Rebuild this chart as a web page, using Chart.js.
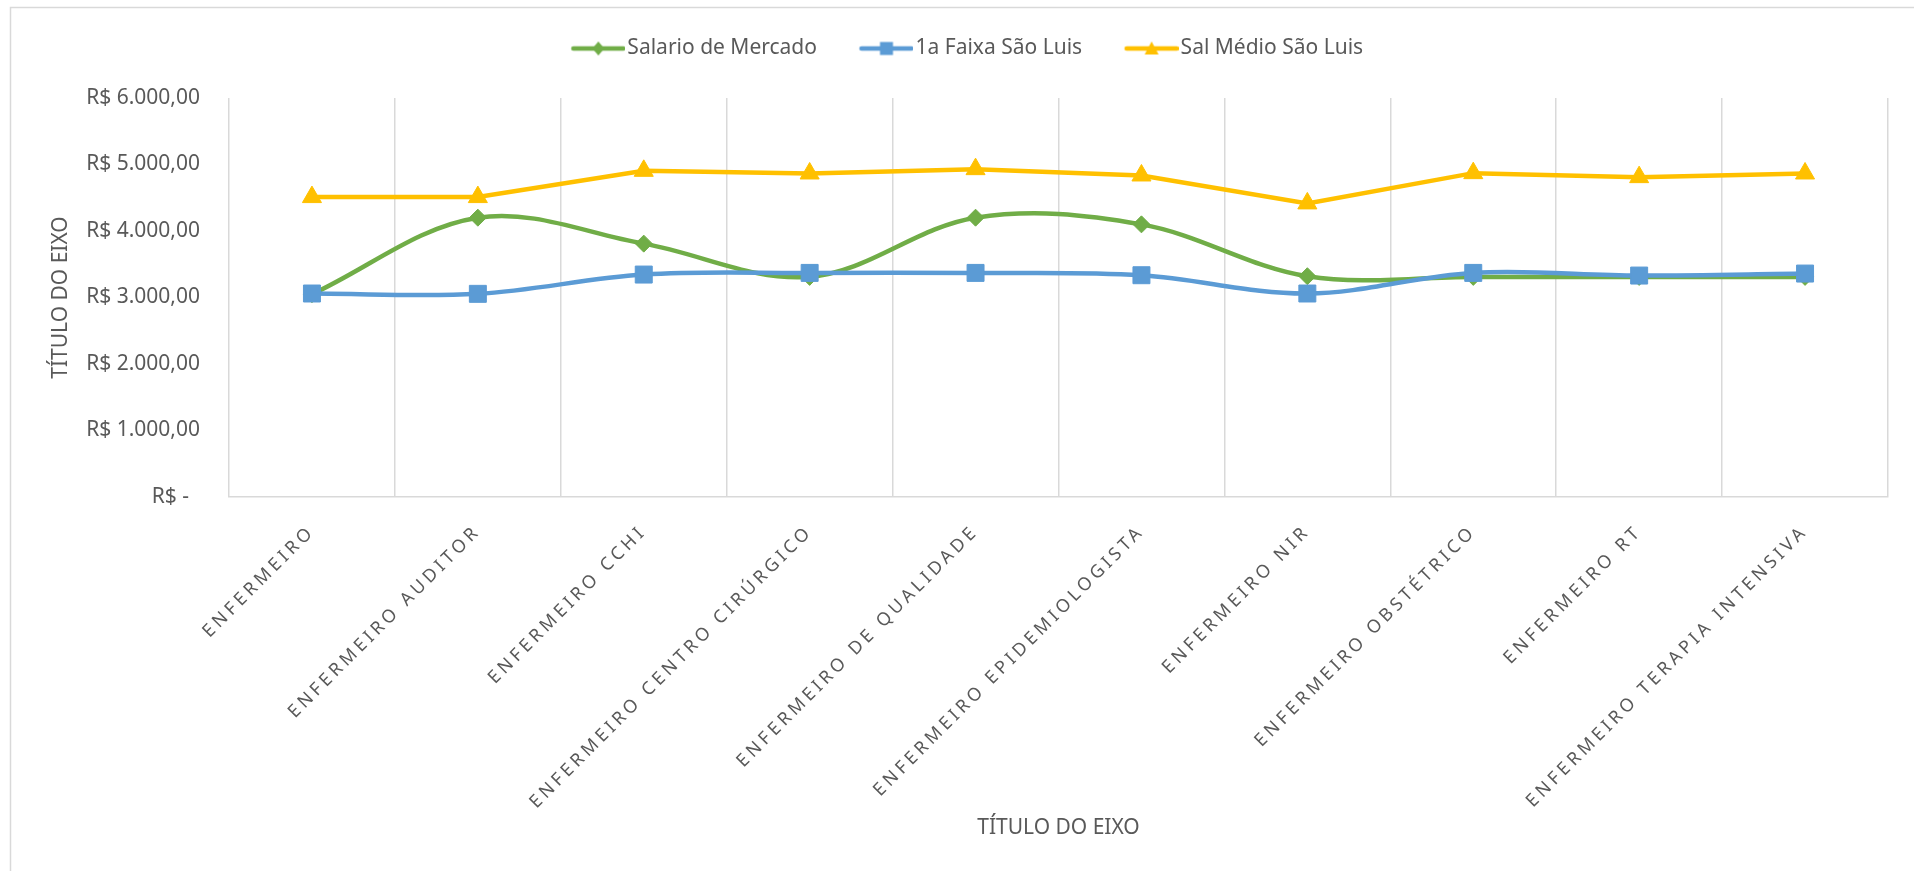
<!DOCTYPE html>
<html>
<head>
<meta charset="utf-8">
<title>Salários Enfermagem</title>
<script src="https://cdn.jsdelivr.net/npm/chart.js@4.4.1/dist/chart.umd.min.js"></script>
<style>
  html, body { margin: 0; padding: 0; background: #fff; }
  #wrap { width: 1914px; height: 871px; }
</style>
</head>
<body>
<div id="wrap"><canvas id="salarios" width="1914" height="871"></canvas></div>
<script>
// Cargos e valores (R$)
const cargos = [
    'ENFERMEIRO',
    'ENFERMEIRO AUDITOR',
    'ENFERMEIRO CCHI',
    'ENFERMEIRO CENTRO CIRÚRGICO',
    'ENFERMEIRO DE QUALIDADE',
    'ENFERMEIRO EPIDEMIOLOGISTA',
    'ENFERMEIRO NIR',
    'ENFERMEIRO OBSTÉTRICO',
    'ENFERMEIRO RT',
    'ENFERMEIRO TERAPIA INTENSIVA'
];
const salarioMercado = [3050, 4200, 3810, 3310, 4200, 4100, 3320, 3310, 3310, 3310];
const primeiraFaixa = [3060, 3055, 3345, 3370, 3370, 3335, 3060, 3370, 3330, 3360];
const salarioMedio = [4510, 4510, 4905, 4865, 4930, 4835, 4415, 4870, 4810, 4865];

const nomesSeries = ['Salario de Mercado', '1a Faixa São Luis', 'Sal Médio São Luis'];

const yTickValues = [0, 1000, 2000, 3000, 4000, 5000, 6000];
const yTickLabels = ['R$ -  ', 'R$ 1.000,00', 'R$ 2.000,00', 'R$ 3.000,00', 'R$ 4.000,00', 'R$ 5.000,00', 'R$ 6.000,00'];

const VERDE = '#70AD47';
const AZUL = '#5B9BD5';
const AMARELO = '#FFC000';
const TEXTO = '#595959';
const GRADE = '#D9D9D9';
const FONTE = "'Noto Sans', 'Open Sans', sans-serif";

// Legend swatch: short line with the series marker in the middle
function legendSwatch(color, marker) {
    const c = document.createElement('canvas');
    c.width = 95;
    c.height = 24;
    const g = c.getContext('2d');
    const x0 = 95 - 54;
    const cy = 12;
    g.strokeStyle = color;
    g.lineWidth = 4.5;
    g.lineCap = 'round';
    g.beginPath();
    g.moveTo(x0 + 2, cy);
    g.lineTo(93, cy);
    g.stroke();

    g.fillStyle = color;
    const mx = x0 + 27;
    g.beginPath();
    if (marker === 'rectRot') {
        g.moveTo(mx, cy - 7);
        g.lineTo(mx + 6, cy);
        g.lineTo(mx, cy + 7);
        g.lineTo(mx - 6, cy);
    } else if (marker === 'rect') {
        g.rect(mx - 6.5, cy - 6.5, 13, 13);
    } else {
        g.moveTo(mx, cy - 7);
        g.lineTo(mx + 7, cy + 6);
        g.lineTo(mx - 7, cy + 6);
    }
    g.closePath();
    g.fill();
    return c;
}

const swatches = [
    legendSwatch(VERDE, 'rectRot'),
    legendSwatch(AZUL, 'rect'),
    legendSwatch(AMARELO, 'triangle')
];

// Extra room under the legend, so the plot starts lower
const legendSpace = {
    id: 'legendSpace',
    beforeInit(chart) {
        const fit = chart.legend.fit;
        chart.legend.fit = function() {
            fit.bind(chart.legend)();
            this.height = 70;
        };
    }
};

// Category labels are drawn letter-spaced
const xLabelSpacing = {
    id: 'xLabelSpacing',
    afterDatasetsDraw(chart) {
        chart.ctx.letterSpacing = '3.8px';
    },
    afterDraw(chart) {
        chart.ctx.letterSpacing = '0px';
    }
};

// Thin frame around the whole chart
const chartFrame = {
    id: 'chartFrame',
    beforeDraw(chart) {
        const ctx = chart.ctx;
        ctx.save();
        ctx.strokeStyle = GRADE;
        ctx.lineWidth = 1.5;
        ctx.strokeRect(10.5, 7.5, 3000, 3000);
        ctx.restore();
    }
};

new Chart(document.getElementById('salarios'), {
    type: 'line',
    data: {
        labels: cargos,
        datasets: [{
            label: nomesSeries[0],
            data: salarioMercado,
            borderColor: VERDE,
            backgroundColor: VERDE,
            borderWidth: 4.5,
            tension: 0.35,
            pointStyle: 'rectRot',
            pointRadius: 8.5,
            pointHoverRadius: 8.5,
            pointBorderWidth: 1,
            order: 3
        }, {
            label: nomesSeries[1],
            data: primeiraFaixa,
            borderColor: AZUL,
            backgroundColor: AZUL,
            borderWidth: 4.5,
            tension: 0.35,
            pointStyle: 'rect',
            pointRadius: 12,
            pointHoverRadius: 12,
            pointBorderWidth: 1,
            order: 2
        }, {
            label: nomesSeries[2],
            data: salarioMedio,
            borderColor: AMARELO,
            backgroundColor: AMARELO,
            borderWidth: 4.5,
            tension: 0,
            pointStyle: 'triangle',
            pointRadius: 11,
            pointHoverRadius: 11,
            pointBorderWidth: 1,
            order: 1
        }]
    },
    options: {
        responsive: false,
        animation: false,
        devicePixelRatio: 1,
        layout: {
            padding: { top: 28, left: 14, right: 26, bottom: 0 }
        },
        plugins: {
            legend: {
                position: 'top',
                labels: {
                    usePointStyle: true,
                    pointStyleWidth: 78,
                    padding: 10,
                    color: TEXTO,
                    font: { family: FONTE, size: 21 },
                    generateLabels: (chart) => chart.data.datasets.map((ds, i) => ({
                        text: ds.label,
                        pointStyle: swatches[i],
                        datasetIndex: i,
                        hidden: false,
                        fontColor: TEXTO,
                        lineWidth: 0,
                        strokeStyle: 'transparent',
                        fillStyle: 'transparent'
                    }))
                }
            },
            tooltip: { enabled: false }
        },
        scales: {
            x: {
                offset: true,
                grid: {
                    display: true,
                    offset: true,
                    color: GRADE,
                    lineWidth: 1.5,
                    drawTicks: false
                },
                border: { display: true, color: GRADE, width: 1.5 },
                ticks: {
                    autoSkip: false,
                    minRotation: 45,
                    maxRotation: 45,
                    padding: 24,
                    color: TEXTO,
                    font: { family: FONTE, size: 18 },
                    z: 1
                },
                title: {
                    display: true,
                    text: 'TÍTULO DO EIXO',
                    color: TEXTO,
                    font: { family: FONTE, size: 21 },
                    padding: { top: 0, bottom: 30 }
                },
                afterFit: (scale) => { scale.height = 374; }
            },
            y: {
                min: 0,
                max: 6000,
                grid: { display: false, drawTicks: false },
                border: { display: false },
                afterBuildTicks: (scale) => {
                    scale.ticks = yTickValues.map(v => ({ value: v }));
                },
                ticks: {
                    padding: 29,
                    color: TEXTO,
                    font: { family: FONTE, size: 21 },
                    callback: (value) => yTickLabels[yTickValues.indexOf(value)]
                },
                title: {
                    display: true,
                    text: 'TÍTULO DO EIXO',
                    color: TEXTO,
                    font: { family: FONTE, size: 21 },
                    padding: { top: 34, bottom: 0 }
                },
                afterFit: (scale) => { scale.width = 215; }
            }
        }
    },
    plugins: [legendSpace, xLabelSpacing, chartFrame]
});
</script>
</body>
</html>
